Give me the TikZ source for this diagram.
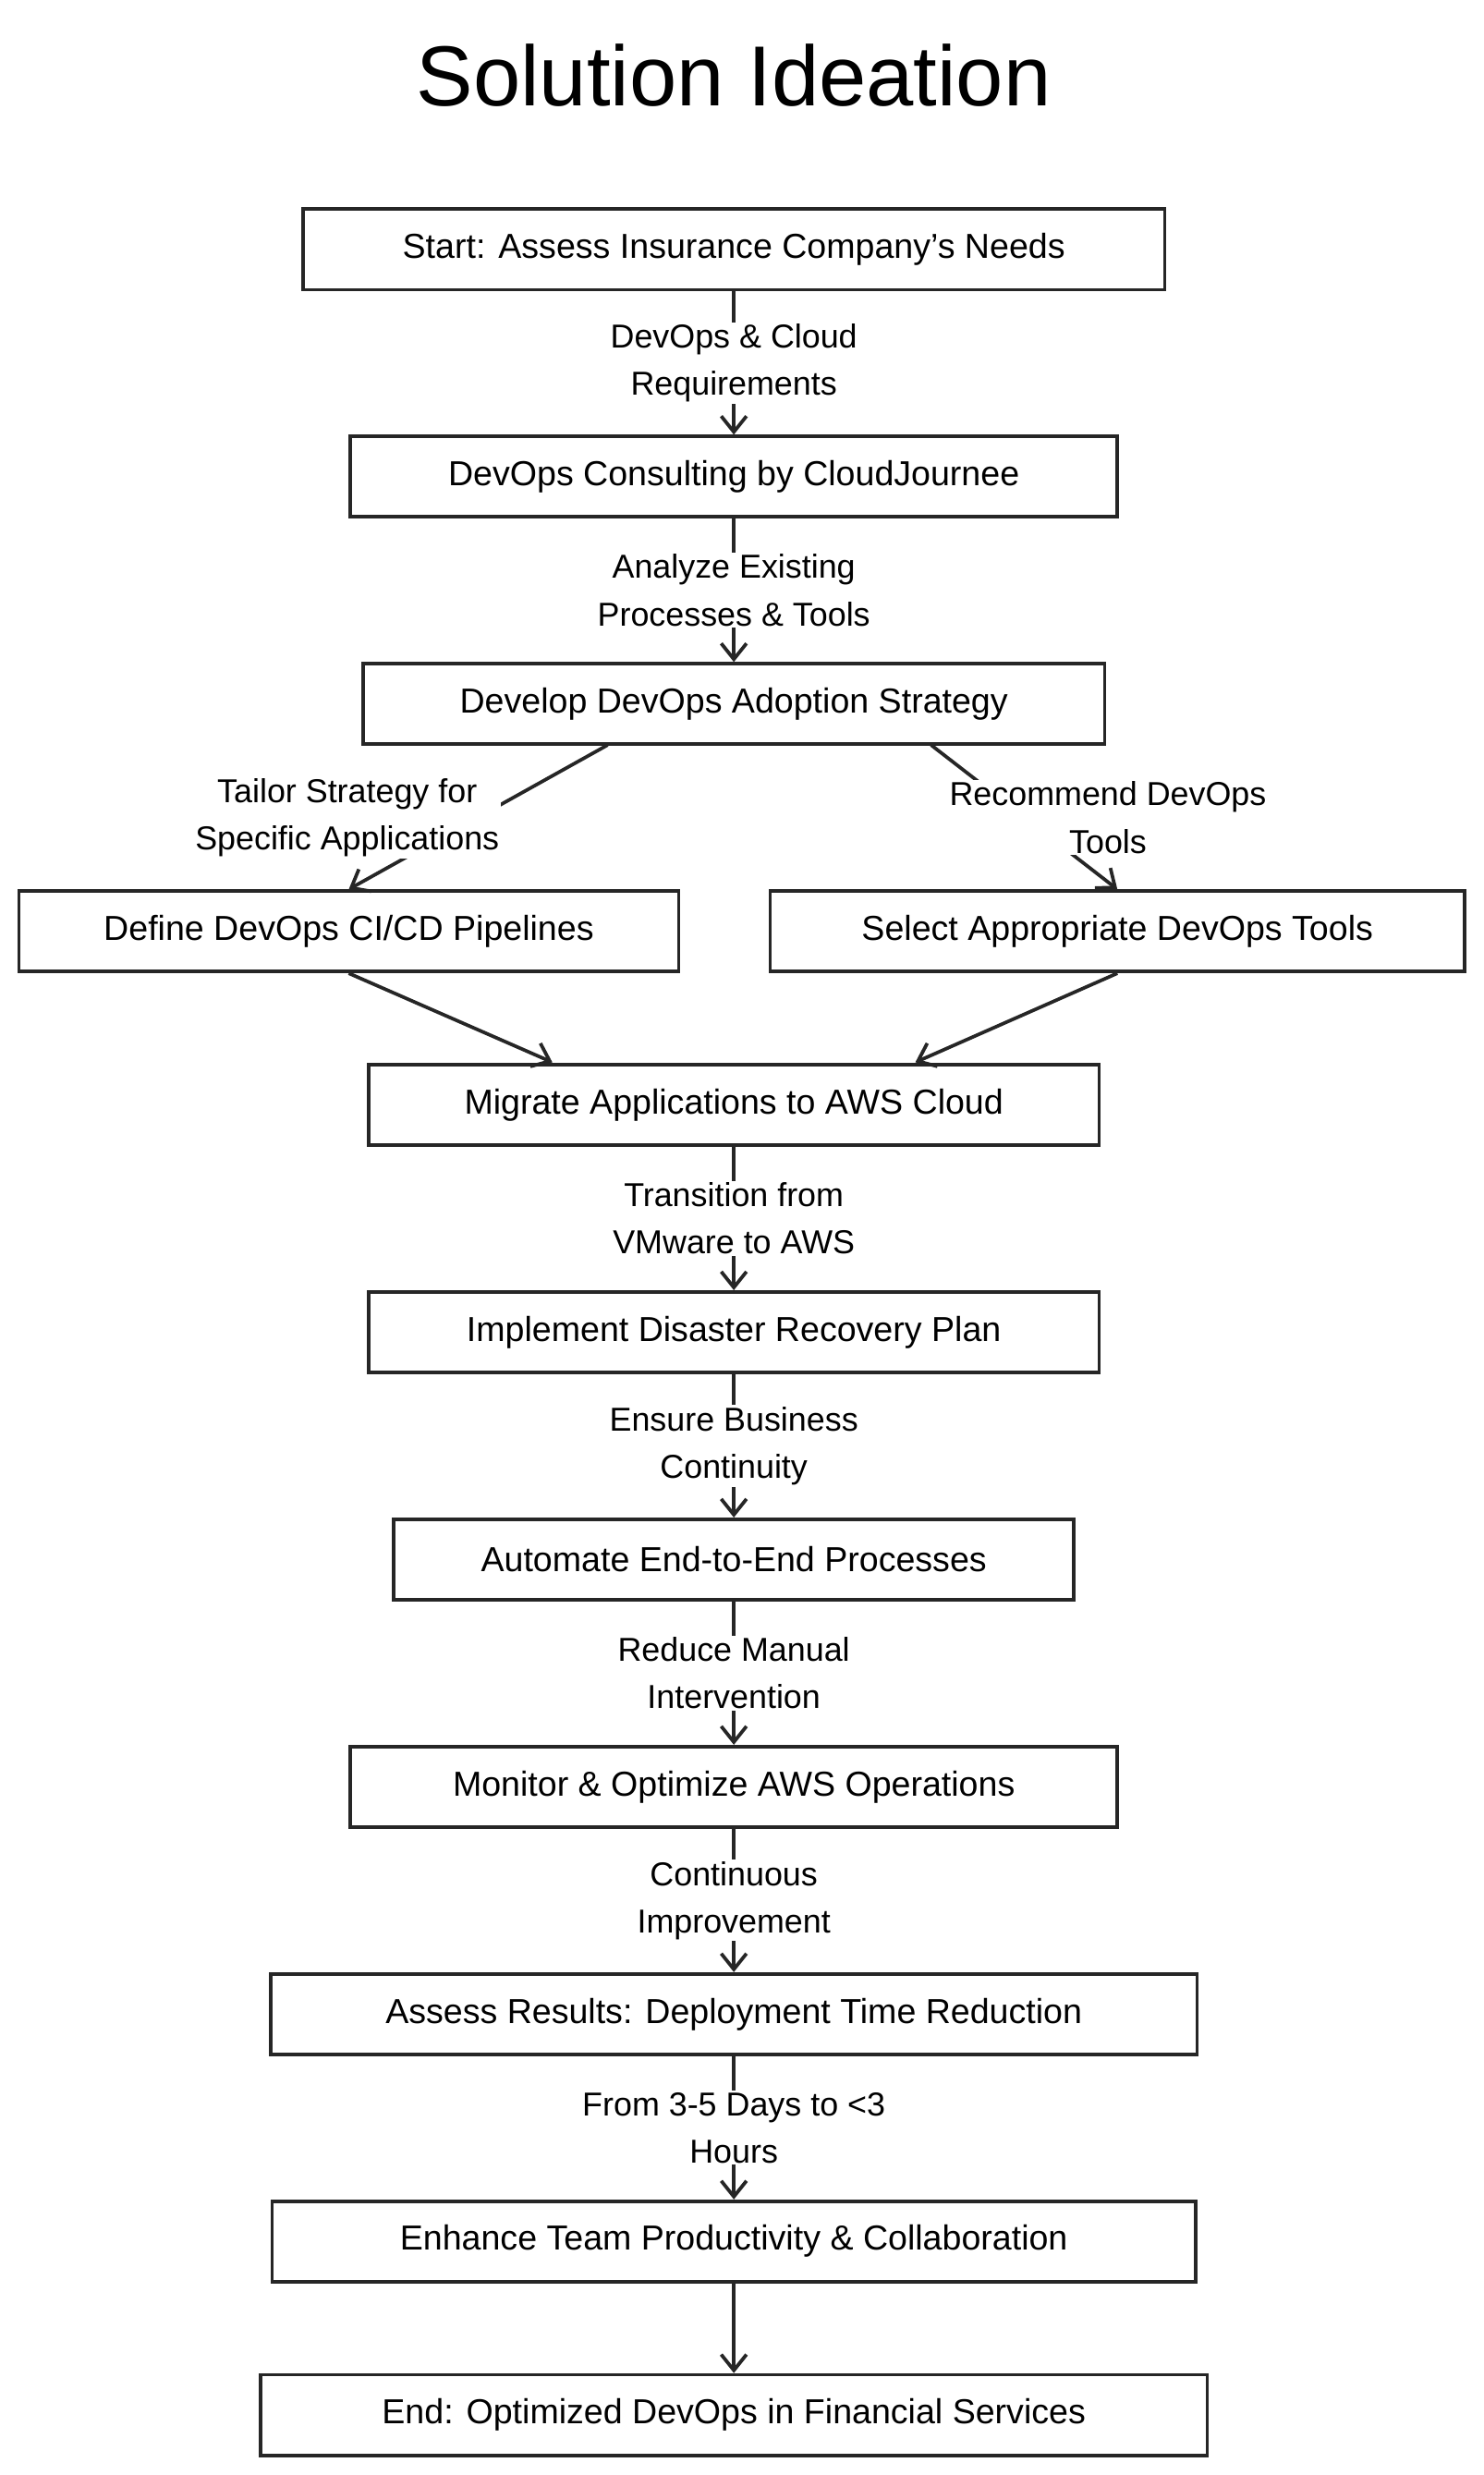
\documentclass[tikz,border=0pt]{standalone}
\usepackage{fontspec}
\setmainfont{Liberation Sans}
\usetikzlibrary{arrows.meta}
\begin{document}
\begin{tikzpicture}[x=1pt,y=-1pt,
  box/.style={draw=black!85,line width=2.2pt,minimum height=51pt,inner sep=0pt,font=\fontsize{22}{24}\selectfont},
  lab/.style={font=\fontsize{21}{30}\selectfont,align=center,fill=white,inner sep=1pt},
  arr/.style={draw=black!85,line width=2.2pt,-{Straight Barb[length=10pt,width=16pt]}}]
\useasboundingbox (0,0) rectangle (940,1568);
\node[font=\fontsize{54}{60}\selectfont] (title) at (465,48) {Solution Ideation};
\node[box,minimum width=546pt] (n1) at (465,158) {Start: Assess Insurance Company's Needs};
\node[box,minimum width=486pt] (n2) at (465,302) {DevOps Consulting by CloudJournee};
\node[box,minimum width=470pt] (n3) at (465,446) {Develop DevOps Adoption Strategy};
\node[box,minimum width=418pt] (n4) at (221,590) {Define DevOps CI/CD Pipelines};
\node[box,minimum width=440pt] (n5) at (708,590) {Select Appropriate DevOps Tools};
\node[box,minimum width=463pt] (n6) at (465,700) {Migrate Applications to AWS Cloud};
\node[box,minimum width=463pt] (n7) at (465,844) {Implement Disaster Recovery Plan};
\node[box,minimum width=431pt] (n8) at (465,988) {Automate End-to-End Processes};
\node[box,minimum width=486pt] (n9) at (465,1132) {Monitor \& Optimize AWS Operations};
\node[box,minimum width=587pt] (n10) at (465,1276) {Assess Results: Deployment Time Reduction};
\node[box,minimum width=585pt] (n11) at (465,1420) {Enhance Team Productivity \& Collaboration};
\node[box,minimum width=600pt] (n12) at (465,1530) {End: Optimized DevOps in Financial Services};
\draw[arr] (n1) -- node[lab]{DevOps \& Cloud\\Requirements} (n2);
\draw[arr] (n2) -- node[lab]{Analyze Existing\\Processes \& Tools} (n3);
\coordinate (a) at (385,472);
\coordinate (b) at (590,472);
\draw[arr] (a) -- (n4.north);
\node[lab] (la) at (220,518) {Tailor Strategy for\\Specific Applications};
\draw[arr] (b) -- (n5.north);
\node[lab] (lb) at (702,518) {Recommend DevOps\\Tools};
\coordinate (m1) at (350,673);
\coordinate (m2) at (580,673);
\draw[arr] (n4.south) -- (m1);
\draw[arr] (n5.south) -- (m2);
\draw[arr] (n6) -- node[lab]{Transition from\\VMware to AWS} (n7);
\draw[arr] (n7) -- node[lab]{Ensure Business\\Continuity} (n8);
\draw[arr] (n8) -- node[lab]{Reduce Manual\\Intervention} (n9);
\draw[arr] (n9) -- node[lab]{Continuous\\Improvement} (n10);
\draw[arr] (n10) -- node[lab]{From 3-5 Days to <3\\Hours} (n11);
\draw[arr] (n11) -- (n12);
\end{tikzpicture}
\end{document}
